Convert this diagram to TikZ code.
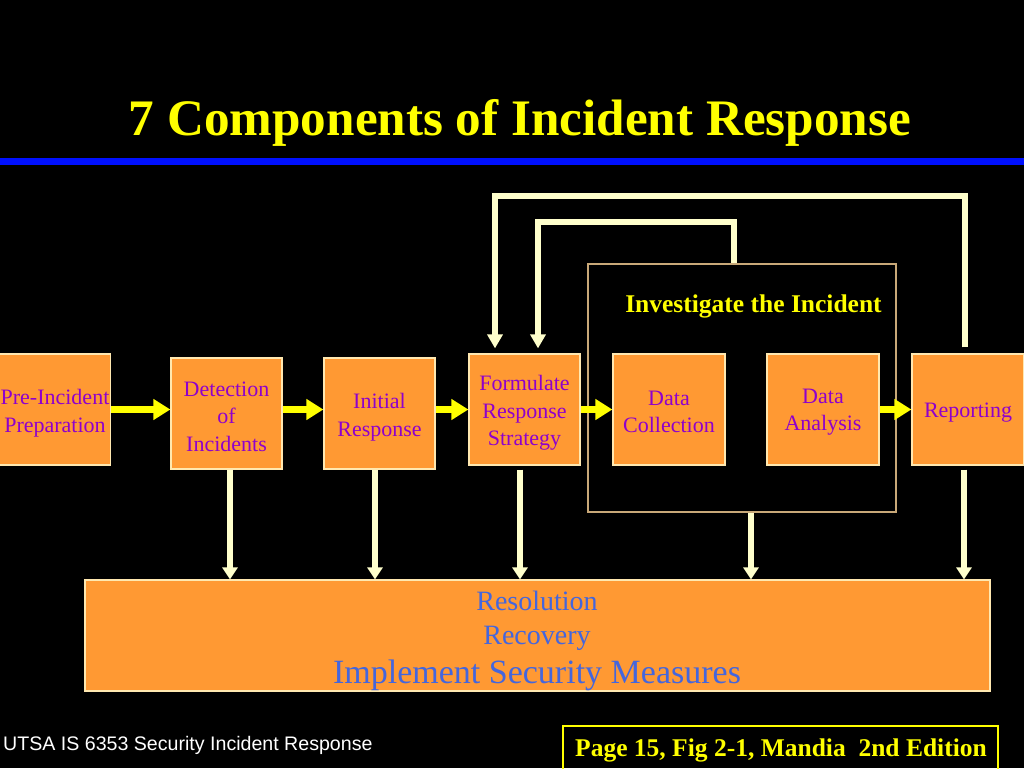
\documentclass[tikz,border=0pt]{standalone}
\usepackage{fontspec}
\setmainfont{Liberation Serif}
\newfontfamily\arialf{Liberation Sans}
\usetikzlibrary{arrows.meta}
\definecolor{boxor}{HTML}{FF9933}
\definecolor{boxedge}{HTML}{FFE8B0}
\definecolor{txtpur}{HTML}{8F00CC}
\definecolor{txtblue}{HTML}{4466DD}
\definecolor{lite}{HTML}{FFFFCC}
\definecolor{ttlyel}{HTML}{FFFF00}
\definecolor{barblue}{HTML}{0010FF}
\definecolor{invedge}{HTML}{C8A878}
\begin{document}
\begin{tikzpicture}[x=1pt,y=-1pt,
 stage/.style={draw=boxedge, line width=1.2pt, fill=boxor, inner sep=0pt, minimum height=111pt, minimum width=111pt},
 stagetext/.style={text=txtpur, align=center, font=\fontsize{22}{27.5}\selectfont, inner sep=0pt},
 yarr/.style={draw=ttlyel, line width=7pt, -{Triangle[width=20pt,length=17pt]}},
 larr/.style={draw=lite, line width=6pt, -{Triangle[width=15pt,length=12pt]}},
 fb/.style={draw=lite, line width=5.5pt, line join=miter, shorten >=5pt, -{Triangle[width=15pt,length=14pt]}},
 blue text/.style={anchor=base, text=txtblue, inner sep=0pt},
]
\fill[black] (0,0) rectangle (1024,768);
\useasboundingbox (0,0) rectangle (1024,768);

% title and bar
\node[anchor=base, text=ttlyel, font=\fontsize{51.2}{60}\selectfont\bfseries, inner sep=0pt] (title) at (520,135) {7 Components of Incident Response};
\draw[barblue, line width=7pt] (0,161.5) -- (1024,161.5);

% investigate frame
\node[draw=invedge, line width=1.2pt, minimum width=308pt, minimum height=248pt, inner sep=0pt] (inv) at (742,388) {};
\node[anchor=base, text=ttlyel, font=\fontsize{25.5}{30}\selectfont\bfseries, inner sep=0pt] (invlbl) at (753.5,312) {Investigate the Incident};

% stages
\node[stage] (pre) at (55,409.5) {};
\node[stage] (det) at (226.5,413.5) {};
\node[stage] (ini) at (379.5,413.5) {};
\node[stage] (form) at (524.5,409.5) {};
\node[stage, minimum width=112pt] (coll) at (669,409.5) {};
\node[stage, minimum width=112pt] (ana) at (823,409.5) {};
\node[stage, minimum width=112pt] (rep) at (968,409.5) {};
\node[stagetext] (pret) at ([yshift=-3.5pt]pre.center) {Pre-Incident\\Preparation};
\node[stagetext] (dett) at ([yshift=-3pt]det.center) {Detection\\of\\Incidents};
\node[stagetext] (init) at ([yshift=-3.5pt]ini.center) {Initial\\Response};
\node[stagetext] (formt) at ([yshift=-3.5pt]form.center) {Formulate\\Response\\Strategy};
\node[stagetext] (collt) at ([yshift=-2.5pt]coll.center) {Data\\Collection};
\node[stagetext] (anat) at ([yshift=-2.5pt]ana.center) {Data\\Analysis};
\node[stagetext] (rept) at ([yshift=-3.5pt]rep.center) {Reporting};

% bottom box
\node[stage, minimum width=905pt, minimum height=111pt] (res) at (537.5,635.5) {};
\node[blue text, font=\fontsize{28}{32}\selectfont] (resl) at (537,610) {Resolution};
\node[blue text, font=\fontsize{28}{32}\selectfont] (recl) at (537,644) {Recovery};
\node[blue text, font=\fontsize{34}{40}\selectfont] (impl) at (537,683) {Implement Security Measures};

% horizontal arrows
\draw[yarr] (pre.east) -- (det.west |- pre.east);
\draw[yarr] (det.east |- pre.east) -- (ini.west |- pre.east);
\draw[yarr] (ini.east |- pre.east) -- (form.west);
\draw[yarr] (form.east) -- (coll.west);
\draw[yarr] (ana.east) -- (rep.west);

% down arrows
\draw[larr] ([xshift=3.5pt]det.south) -- ([xshift=3.5pt]det.south |- res.north);
\draw[larr] ([xshift=-4.5pt]ini.south) -- ([xshift=-4.5pt]ini.south |- res.north);
\draw[larr] ([shift={(-4.5pt,-4pt)}]form.south) -- ([xshift=-4.5pt]form.south |- res.north);
\draw[larr] ([xshift=9pt]inv.south) -- ([xshift=9pt]inv.south |- res.north);
\draw[larr] ([shift={(-4pt,-4pt)}]rep.south) -- ([xshift=-4pt]rep.south |- res.north);

% feedback loops
\coordinate (fbA) at (495,196);
\coordinate (fbB) at (538,222);
\draw[fb] ([shift={(-3pt,6pt)}]rep.north) |- (fbA) -- (fbA |- form.north);
\draw[fb] ([xshift=-8pt]inv.north) |- (fbB) -- (fbB |- form.north);

% footer
\node[anchor=base west, text=white, font=\arialf\fontsize{19.6}{23}\selectfont, inner sep=0pt] (foot) at (3,750) {UTSA IS 6353 Security Incident Response};
\node[draw=ttlyel, line width=1.5pt, minimum width=435pt, minimum height=46pt, inner sep=0pt] (citebox) at (780.5,749) {};
\node[anchor=base, text=ttlyel, font=\fontsize{25.5}{30}\selectfont\bfseries, inner sep=0pt] (cite) at (781,756) {Page 15, Fig 2-1, Mandia\ \ 2nd Edition};
\end{tikzpicture}
\end{document}
